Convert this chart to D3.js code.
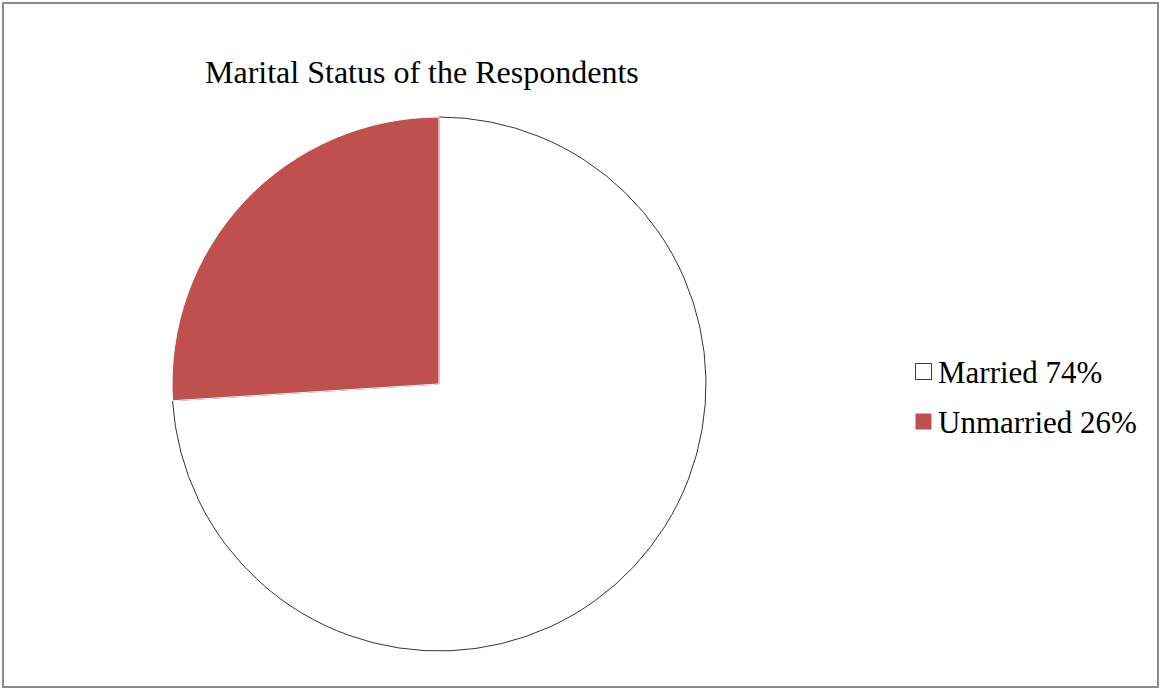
<!DOCTYPE html>
<html lang="en">
<head>
<meta charset="UTF-8">
<script src="https://d3js.org/d3.v7.min.js"></script>
<style>
  body { margin: 0; background: #fff; }
  svg { display: block; }
</style>
</head>
<body>
<div id="chart_area"></div>
<script>
  // data
  var categories = ["Married", "Unmarried"];
  var shares = [74, 26];
  var legendLabels = ["Married 74%", "Unmarried 26%"];
  var chartTitle = "Marital Status of the Respondents";

  var W = 1160, H = 689;
  var colors = d3.scaleOrdinal().domain(categories).range(["#ffffff", "#c0504d"]);
  var strokes = d3.scaleOrdinal().domain(categories).range(["#000000", "#ffffff"]);

  var svg = d3.select("#chart_area").append("svg")
    .attr("width", W).attr("height", H);

  // outer frame
  svg.append("rect")
    .attr("x", 3).attr("y", 3)
    .attr("width", 1155).attr("height", 684)
    .attr("fill", "#fff")
    .attr("stroke", "#8c8c8c")
    .attr("stroke-width", 2);

  svg.append("text")
    .attr("x", 205).attr("y", 83)
    .style("font-family", "'Liberation Serif', 'Times New Roman', serif")
    .style("font-size", "32px")
    .attr("fill", "#000")
    .text(chartTitle);

  var cx = 439, cy = 384, r = 267;
  var pie = d3.pie().sort(null).value(function(d) { return d; });
  var arc = d3.arc().innerRadius(0).outerRadius(r);
  var arcs = pie(shares);

  var g = svg.append("g").attr("transform", "translate(" + cx + "," + cy + ")");
  g.selectAll("path")
    .data(arcs)
    .enter()
    .append("path")
      .attr("d", arc)
      .attr("fill", function(d, i) { return colors(categories[i]); })
      .attr("stroke", function(d, i) { return strokes(categories[i]); })
      .attr("stroke-width", function(d, i) { return i === 0 ? 0.8 : 1; })
      .attr("stroke-linejoin", "round");

  // legend
  var y = d3.scaleBand().domain(categories).range([349, 449]);
  var leg = svg.append("g").selectAll("g")
    .data(categories)
    .enter()
    .append("g")
      .attr("transform", function(d) { return "translate(915," + (y(d) + y.bandwidth() / 2) + ")"; });

  leg.append("rect")
    .attr("x", 0.5).attr("y", -10.5)
    .attr("width", 16).attr("height", 16)
    .attr("fill", function(d) { return colors(d); })
    .attr("stroke", function(d, i) { return i === 0 ? "#404040" : "none"; })
    .attr("stroke-width", 1);

  leg.append("text")
    .attr("x", 23).attr("y", 9)
    .style("font-family", "'Liberation Serif', 'Times New Roman', serif")
    .style("font-size", "31px")
    .attr("fill", "#000")
    .text(function(d, i) { return legendLabels[i]; });
</script>
</body>
</html>
